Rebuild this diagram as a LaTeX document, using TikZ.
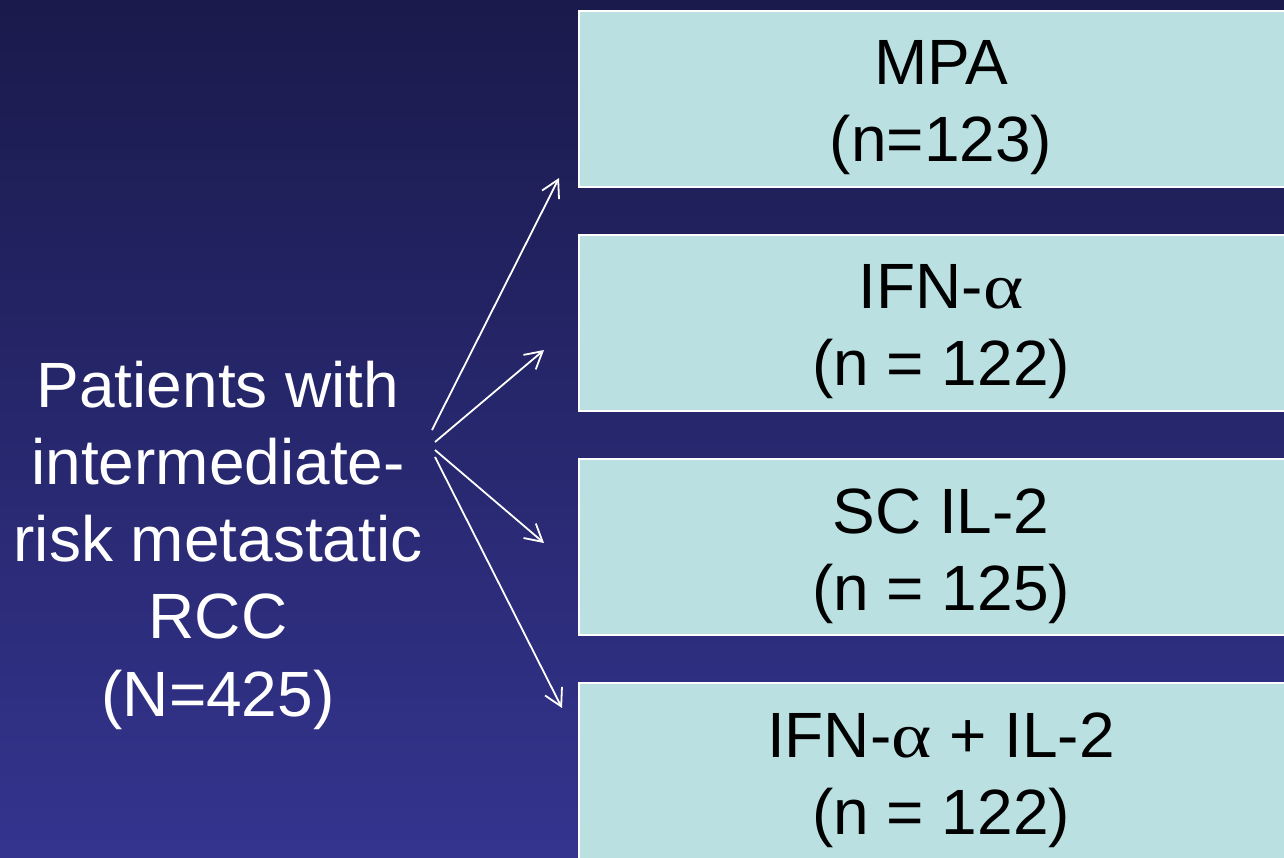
\documentclass[tikz,border=0pt]{standalone}
\usepackage{fontspec}
\setmainfont{Liberation Sans}
\newfontfamily\greekserif{Liberation Serif}
\newcommand{\galpha}{{\greekserif\addfontfeature{FakeStretch=1.2}α}}
\usetikzlibrary{arrows.meta}
\definecolor{bgtop}{HTML}{1A1A4C}
\definecolor{bgbot}{HTML}{34348F}
\definecolor{boxfill}{HTML}{BAE0E2}
\tikzset{
  armbox/.style={draw=white, line width=2pt, fill=boxfill, minimum width=724pt, minimum height=176pt, anchor=north west, inner sep=0pt},
  armtext/.style={text=black, align=center, font=\fontsize{64}{77}\selectfont, inner sep=0pt},
  lefttext/.style={text=white, align=center, font=\fontsize{64}{77.25}\selectfont, inner sep=0pt},
  randarrow/.style={draw=white, line width=1.8pt, -{Straight Barb[length=17pt,width=19pt,line width=1.8pt]}}
}
\begin{document}
\begin{tikzpicture}[x=1pt,y=-1pt]
\useasboundingbox (0,0) rectangle (1284,857);
\clip (0,0) rectangle (1284,857);
\shade[top color=bgtop, bottom color=bgbot] (0,0) rectangle (1284,857);

\node[armbox] (b1) at (578,10) {};
\node[armbox] (b2) at (578,234) {};
\node[armbox] (b3) at (578,458) {};
\node[armbox] (b4) at (578,682) {};

\node[armtext] (t1) at ([yshift=-9pt]b1.center) {MPA\\(n=123)};
\node[armtext] (t2) at ([yshift=-9pt]b2.center) {IFN-\galpha\\(n = 122)};
\node[armtext] (t3) at ([yshift=-9pt]b3.center) {SC IL-2\\(n = 125)};
\node[armtext] (t4) at ([yshift=-9pt]b4.center) {IFN-\galpha{} + IL-2\\(n = 122)};

\node[lefttext] (pat) at (218,545) {Patients with\\intermediate-\\risk metastatic\\RCC\\(N=425)};

\coordinate (s1) at (432,430);
\coordinate (s2) at (435,442);
\coordinate (s3) at (435,450);
\coordinate (s4) at (435,457);
\coordinate (e1) at (559,178);
\coordinate (e2) at (544,350);
\coordinate (e3) at (544,543);
\coordinate (e4) at (562,708);

\draw[randarrow] (s1) -- (e1);
\draw[randarrow] (s2) -- (e2);
\draw[randarrow] (s3) -- (e3);
\draw[randarrow] (s4) -- (e4);
\end{tikzpicture}
\end{document}
